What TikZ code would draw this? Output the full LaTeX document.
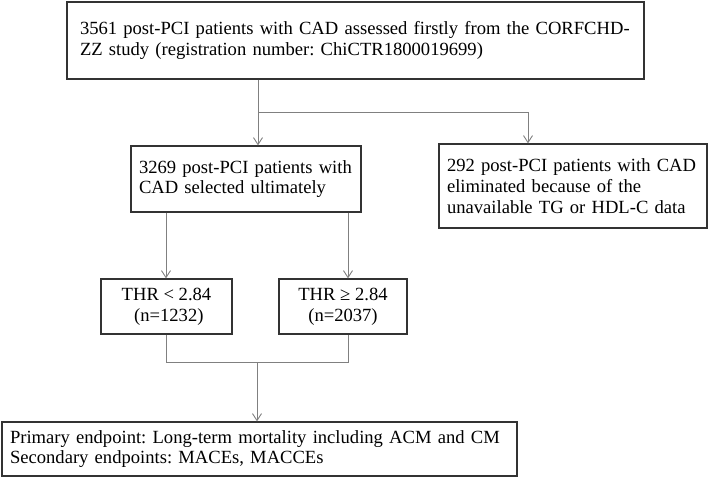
\documentclass[tikz,border=0pt]{standalone}
\usepackage{fontspec}
\setmainfont{Liberation Serif}
\usetikzlibrary{arrows.meta}
\frenchspacing

\begin{document}
\begin{tikzpicture}[x=1pt, y=-1pt,
  box/.style={draw=black!80, line width=1.2pt, inner ysep=0pt, font=\fontsize{18.6}{20.7}\selectfont},
  lbox/.style={box, align=left},
  cbox/.style={box, align=center, inner xsep=0pt},
  conn/.style={draw=black!50, line width=0.9pt},
  arr/.style={-{Straight Barb[length=7pt, width=9pt]}}]
\useasboundingbox (0,0) rectangle (709,478);

% Boxes
\node[lbox, inner xsep=13pt, text width=551pt, minimum height=77pt] (top) at (355.5,40.5)
  {\mbox{3561 post-PCI patients with CAD assessed firstly from the CORFCHD-}\\
   \mbox{ZZ study (registration number: ChiCTR1800019699)}};
\node[lbox, inner xsep=8pt, text width=214pt, minimum height=66pt] (sel) at (246,179)
  {\mbox{3269 post-PCI patients with}\\\mbox{CAD selected ultimately}};
\node[lbox, inner xsep=8pt, text width=252pt, minimum height=84pt] (excl) at (573,186)
  {\mbox{292 post-PCI patients with CAD}\\\mbox{eliminated because of the}\\
   \mbox{unavailable TG or HDL-C data}};
\node[cbox, minimum width=131pt, minimum height=55pt] (thrlo) at (166.5,306.5)
  {THR < 2.84\\\ (n=1232)};
\node[cbox, minimum width=128pt, minimum height=55pt] (thrhi) at (343,306.5)
  {THR ≥ 2.84\\(n=2037)};
\node[lbox, inner xsep=8pt, text width=499pt, minimum height=54pt] (endp) at (259.5,449)
  {\mbox{Primary endpoint: Long-term mortality including ACM and CM}\\
   \mbox{Secondary endpoints: MACEs, MACCEs}};

% Split below the first box
\coordinate (split) at (258,112);
\coordinate (branch) at (528,112);
\draw[conn] (split |- top.south) -- (split);
\draw[conn, arr] (split) -- (split |- sel.north);
\draw[conn, arr] (split) -- (branch) -- (branch |- excl.north);

% Two THR groups
\coordinate (lo) at (166,0);
\coordinate (hi) at (348,0);
\draw[conn, arr] (lo |- sel.south) -- (lo |- thrlo.north);
\draw[conn, arr] (hi |- sel.south) -- (hi |- thrhi.north);

% Merge into endpoints
\coordinate (merge) at (257,362);
\draw[conn] (lo |- thrlo.south) -- (lo |- merge) -- (hi |- merge) -- (hi |- thrhi.south);
\draw[conn, arr] (merge) -- (merge |- endp.north);
\end{tikzpicture}
\end{document}
